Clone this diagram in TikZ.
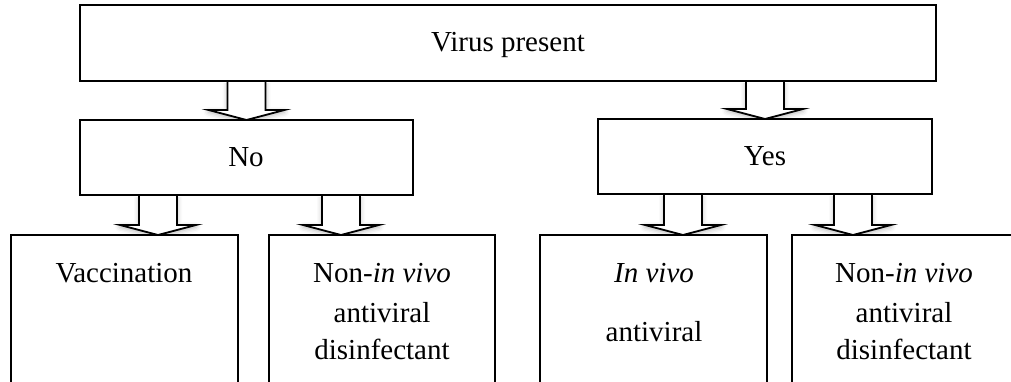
\documentclass[tikz,border=0pt]{standalone}
\usepackage{fontspec}
\setmainfont{Liberation Serif}
\usetikzlibrary{calc,shadows.blur}
\pgfdeclarelayer{back}
\pgfsetlayers{back,main}

\begin{document}
\begin{tikzpicture}[x=1pt,y=-1pt,
  box/.style={draw, line width=1.8pt, fill=white, rectangle, inner sep=0pt,
    outer sep=0pt, anchor=north west},
  txt/.style={anchor=base, inner sep=0pt, font=\fontsize{29}{35}\selectfont},
  fatarrow/.style={draw, line width=1.8pt, fill=white, line join=miter,
    blur shadow={shadow xshift=0pt, shadow yshift=-2pt,
      shadow blur radius=5pt, shadow opacity=30},
    to path={let \p1=(\tikztostart), \p2=(\tikztotarget) in
      (\x1-19pt,\y1) -- (\x1-19pt,\y2+10pt) -- (\x1-38pt,\y2+10pt)
      -- (\x2,\y2) -- (\x1+38pt,\y2+10pt) -- (\x1+19pt,\y2+10pt)
      -- (\x1+19pt,\y1)}}]

\useasboundingbox (0,0) rectangle (1011,382);

% boxes
\node[box, minimum width=856pt, minimum height=76pt] (top) at (80,5) {};
\node[box, minimum width=333pt, minimum height=75pt] (no)  at (80,120) {};
\node[box, minimum width=334pt, minimum height=75pt] (yes) at (598,119) {};
\node[box, minimum width=227pt, minimum height=200pt] (vac) at (11,235) {};
\node[box, minimum width=226pt, minimum height=200pt] (nv1) at (269,235) {};
\node[box, minimum width=227pt, minimum height=200pt] (iv)  at (540,235) {};
\node[box, minimum width=224pt, minimum height=200pt] (nv2) at (792,235) {};

% texts
\node[txt] (ttop) at (508,52) {Virus present};
\node[txt] (tno)  at (246,167) {No};
\node[txt] (tyes) at (765,166) {Yes};
\node[txt] (tvac) at (124,282) {Vaccination};
\node[txt] (tnv1a) at (382,282) {Non-\textit{in vivo}};
\node[txt] (tnv1b) at (382,322) {antiviral};
\node[txt] (tnv1c) at (382,359) {disinfectant};
\node[txt] (tiva) at (654,282) {\textit{In vivo}};
\node[txt] (tivb) at (654,341) {antiviral};
\node[txt] (tnv2a) at (904,282) {Non-\textit{in vivo}};
\node[txt] (tnv2b) at (904,322) {antiviral};
\node[txt] (tnv2c) at (904,359) {disinfectant};

% arrow targets on the lower boxes
\coordinate (t1) at ([xshift=33.5pt]vac.north);
\coordinate (t2) at ([xshift=-41pt]nv1.north);
\coordinate (t3) at ([xshift=29.5pt]iv.north);
\coordinate (t4) at ([xshift=-51pt]nv2.north);

% block arrows
\begin{pgfonlayer}{back}
\draw[fatarrow] (top.south -| no.north) to (no.north);
\draw[fatarrow] (top.south -| yes.north) to (yes.north);
\draw[fatarrow] (no.south -| t1) to (t1);
\draw[fatarrow] (no.south -| t2) to (t2);
\draw[fatarrow] (yes.south -| t3) to (t3);
\draw[fatarrow] (yes.south -| t4) to (t4);
\end{pgfonlayer}
\end{tikzpicture}
\end{document}
